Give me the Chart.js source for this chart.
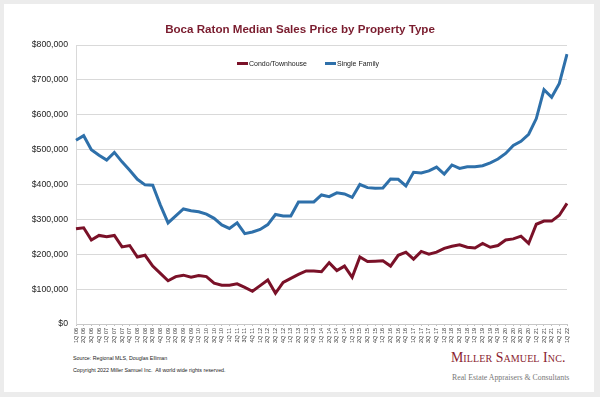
<!DOCTYPE html>
<html>
<head>
<meta charset="utf-8">
<script src="https://cdn.jsdelivr.net/npm/chart.js@4.4.1/dist/chart.umd.min.js"></script>
<style>
  html, body { margin: 0; padding: 0; background: #ececec; }
  #page { position: relative; width: 600px; height: 397px; overflow: hidden; background: #ececec; }
  #panel { position: absolute; left: 4px; top: 4px; width: 590px; height: 388px; background: #ffffff; }
  #chartBox { position: absolute; left: 0; top: 0; width: 600px; height: 350px; }
  .title { position: absolute; left: 0; width: 600px; top: 22px; text-align: center; font: bold 11.6px "Liberation Sans", Arial, sans-serif; color: #7a1c2e; }
  .legend { position: absolute; top: 60px; font: 7px "Liberation Sans", Arial, sans-serif; color: #222; white-space: nowrap; }
  .legend .sw { display: inline-block; width: 11px; height: 3px; vertical-align: middle; margin-right: 1px; position: relative; top: -1px; }
  .foot { position: absolute; left: 73px; font: 5.3px "Liberation Sans", Arial, sans-serif; color: #222; white-space: nowrap; }
  .logo1 { position: absolute; left: 451px; top: 350px; font: 13.8px "Liberation Serif", "Times New Roman", serif; font-variant: small-caps; color: #8a1d30; white-space: nowrap; letter-spacing: 0.1px; }
  .logo2 { position: absolute; left: 452px; top: 373px; font: 7.8px "Liberation Serif", "Times New Roman", serif; color: #777; white-space: nowrap; }
</style>
</head>
<body>
<div id="page">
  <div id="panel"></div>
  <div id="chartBox"><canvas id="c" width="600" height="350"></canvas></div>
  <div class="title">Boca Raton Median Sales Price by Property Type</div>
  <div class="legend" style="left:237px;"><span class="sw" style="background:#7a1128"></span>Condo/Townhouse</div>
  <div class="legend" style="left:325px;"><span class="sw" style="background:#2e70aa"></span>Single Family</div>
  <div class="foot" style="top:355px;">Source: Regional MLS, Douglas Elliman</div>
  <div class="foot" style="top:367px;">Copyright 2022 Miller Samuel Inc.&nbsp; All world wide rights reserved.</div>
  <div class="logo1">Miller Samuel Inc.</div>
  <div class="logo2">Real Estate Appraisers &amp; Consultants</div>
</div>
<script>
const quarterLabels = [
  "1Q 06","2Q 06","3Q 06","4Q 06","1Q 07","2Q 07","3Q 07","4Q 07",
  "1Q 08","2Q 08","3Q 08","4Q 08","1Q 09","2Q 09","3Q 09","4Q 09",
  "1Q 10","2Q 10","3Q 10","4Q 10","1Q 11","2Q 11","3Q 11","4Q 11",
  "1Q 12","2Q 12","3Q 12","4Q 12","1Q 13","2Q 13","3Q 13","4Q 13",
  "1Q 14","2Q 14","3Q 14","4Q 14","1Q 15","2Q 15","3Q 15","4Q 15",
  "1Q 16","2Q 16","3Q 16","4Q 16","1Q 17","2Q 17","3Q 17","4Q 17",
  "1Q 18","2Q 18","3Q 18","4Q 18","1Q 19","2Q 19","3Q 19","4Q 19",
  "1Q 20","2Q 20","3Q 20","4Q 20","1Q 21","2Q 21","3Q 21","4Q 21",
  "1Q 22"
];
const condoTownhouse = [
  273000,276000,241000,254000,250000,254000,221000,225000,
  192000,197000,166000,145000,124000,136000,140000,134000,
  139000,136000,117000,111000,111000,115000,105000,94000,
  110000,126000,88000,119000,131000,142000,152000,152000,
  150000,176000,153000,166000,134000,192000,179000,180000,
  181000,166000,197000,206000,186000,208000,200000,206000,
  217000,223000,227000,220000,218000,231000,220000,225000,
  241000,244000,252000,231000,286000,295000,295000,312000,
  346000
];
const singleFamily = [
  527000,540000,500000,484000,470000,492000,465000,441000,
  415000,399000,398000,341000,290000,310000,330000,325000,
  322000,315000,303000,284000,274000,290000,259000,264000,
  271000,285000,314000,310000,310000,350000,350000,350000,
  370000,365000,376000,373000,363000,400000,391000,389000,
  390000,416000,415000,396000,435000,433000,439000,450000,
  430000,456000,446000,451000,451000,454000,462000,473000,
  489000,512000,524000,544000,589000,672000,650000,690000,
  774000
];
const yTickStep = 100000;
const yMax = 800000;

new Chart(document.getElementById('c'), {
  type: 'line',
  data: {
    labels: quarterLabels,
    datasets: [
      { label: 'Condo/Townhouse', data: condoTownhouse, borderColor: '#7a1128', backgroundColor: '#7a1128',
        borderWidth: 3, pointRadius: 0, tension: 0, fill: false },
      { label: 'Single Family', data: singleFamily, borderColor: '#2e70aa', backgroundColor: '#2e70aa',
        borderWidth: 3, pointRadius: 0, tension: 0, fill: false }
    ]
  },
  options: {
    responsive: false,
    animation: false,
    devicePixelRatio: 1,
    layout: { padding: { top: 45, right: 33, bottom: 0, left: 0 } },
    plugins: { legend: { display: false }, title: { display: false }, tooltip: { enabled: false } },
    scales: {
      x: {
        offset: false,
        grid: { display: true, drawOnChartArea: false, drawTicks: true, tickLength: 2, color: '#bfbfbf' },
        border: { display: true, color: '#c8c8c8' },
        ticks: { autoSkip: false, minRotation: 90, maxRotation: 90, padding: 2,
                 font: { family: 'Liberation Sans', size: 5.5 }, color: '#333' },
        afterFit: (s) => { s.height = 26; }
      },
      y: {
        min: 0, max: yMax,
        grid: { color: '#d9d9d9', lineWidth: 1, drawTicks: false },
        border: { display: true, color: '#d9d9d9' },
        ticks: { stepSize: yTickStep, padding: 8,
                 font: { family: 'Liberation Sans', size: 8.7 }, color: '#222',
                 callback: (v) => '$' + Number(v).toLocaleString('en-US') },
        afterFit: (s) => { s.width = 76; }
      }
    }
  }
});
</script>
</body>
</html>
